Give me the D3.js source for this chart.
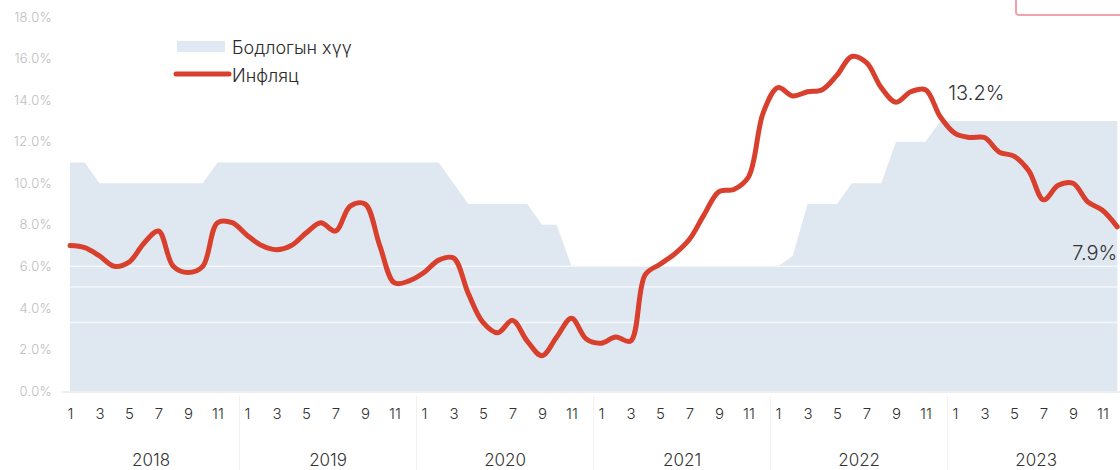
<!DOCTYPE html>
<html><head><meta charset="utf-8">
<script src="https://cdn.jsdelivr.net/npm/d3@7"></script>
<style>
html,body{margin:0;padding:0;background:#fff;}
svg{display:block;font-family:Inter,"Noto Sans",sans-serif;}
</style>
</head><body>
<svg id="chart" width="1120" height="470"></svg>
<script>
// ---- data ----
const years = [2018, 2019, 2020, 2021, 2022, 2023];
const monthTickLabels = [1, 3, 5, 7, 9, 11];
const yTicks = [0, 2, 4, 6, 8, 10, 12, 14, 16, 18];
const seriesNames = ["Бодлогын хүү", "Инфляц"];

const inflation = [
  7.0, 6.9, 6.5, 6.0, 6.2, 7.1, 7.7, 6.0, 5.7, 6.0, 8.1, 8.1,   // 2018
  7.5, 7.0, 6.8, 7.0, 7.6, 8.1, 7.7, 8.9, 9.0, 7.0, 5.2, 5.3,   // 2019
  5.7, 6.3, 6.4, 4.7, 3.3, 2.8, 3.4, 2.4, 1.7, 2.6, 3.5, 2.5,   // 2020
  2.3, 2.6, 2.4, 5.6, 6.1, 6.6, 7.3, 8.5, 9.6, 9.7, 10.3, 13.4, // 2021
  14.6, 14.2, 14.4, 14.5, 15.2, 16.1, 15.8, 14.6, 13.9, 14.4, 14.5, 13.2, // 2022
  12.4, 12.2, 12.2, 11.5, 11.3, 10.6, 9.2, 9.9, 10.0, 9.1, 8.7, 7.9  // 2023
];

const policyRate = [
  11, 11, 10, 10, 10, 10, 10, 10, 10, 10, 11, 11,   // 2018
  11, 11, 11, 11, 11, 11, 11, 11, 11, 11, 11, 11,   // 2019
  11, 11, 10, 9, 9, 9, 9, 9, 8, 8, 6, 6,            // 2020
  6, 6, 6, 6, 6, 6, 6, 6, 6, 6, 6, 6,               // 2021
  6, 6.5, 9, 9, 9, 10, 10, 10, 12, 12, 12, 13,      // 2022
  13, 13, 13, 13, 13, 13, 13, 13, 13, 13, 13, 13    // 2023
];

const annotations = [
  {index: 59, text: "13.2%"},
  {index: 71, text: "7.9%"}
];

// ---- layout ----
const svg = d3.select("#chart");
const n = inflation.length;
const x = d3.scaleLinear().domain([0, n - 1]).range([70, 1117.25]);
const y = d3.scaleLinear().domain([0, 18]).range([391, 17]);

// policy rate area
svg.append("path")
  .attr("fill", "#dfe8f1")
  .attr("d", d3.area().x((d, i) => x(i)).y0(y(0)).y1(d => y(d)).curve(d3.curveLinear)(policyRate));

// faint white streaks across area
[6, 5, 3.3].forEach(v => {
  svg.append("line").attr("x1", x(0)).attr("x2", x(n - 1))
    .attr("y1", y(v)).attr("y2", y(v))
    .attr("stroke", "#f4f7fa").attr("stroke-width", 1.5);
});

// baseline
svg.append("line").attr("x1", 62).attr("x2", 1120)
  .attr("y1", y(0) + 1).attr("y2", y(0) + 1)
  .attr("stroke", "#e6e9ec").attr("stroke-width", 1.5);

// y axis
const yAxis = d3.axisLeft(y).tickValues(yTicks).tickSize(0).tickPadding(0)
  .tickFormat(d => d3.format(".1f")(d) + "%");
const gy = svg.append("g").attr("transform", "translate(52,0)").call(yAxis);
gy.select(".domain").remove();
gy.selectAll("text").attr("fill", "#bdbdbd").attr("font-size", 13)
  .attr("font-weight", 300).attr("letter-spacing", "0.3px")
  .attr("font-family", "Inter, 'Noto Sans', sans-serif");

// year separators
d3.range(1, years.length + 1).forEach(k => {
  svg.append("line")
    .attr("x1", x(k * 12 - 0.5)).attr("x2", x(k * 12 - 0.5))
    .attr("y1", 396).attr("y2", 470)
    .attr("stroke", "#f1f1f1").attr("stroke-width", 1);
});

// month labels via axis
const monthIdx = [];
years.forEach((yr, yi) => monthTickLabels.forEach(m => monthIdx.push(yi * 12 + m - 1)));
const xAxis = d3.axisBottom(x).tickValues(monthIdx).tickSize(0).tickPadding(0)
  .tickFormat(i => String((i % 12) + 1));
const gx = svg.append("g").attr("transform", "translate(0,408)").call(xAxis);
gx.select(".domain").remove();
gx.selectAll("text").attr("fill", "#333").attr("font-size", 15).attr("font-weight", 300)
  .attr("font-family", "Inter, 'Noto Sans', sans-serif");

// year labels
svg.append("g").selectAll("text").data(years).join("text")
  .attr("x", (d, i) => (x(i * 12) + x(i * 12 + 11)) / 2)
  .attr("y", 466)
  .attr("text-anchor", "middle")
  .attr("fill", "#333").attr("font-size", 17).attr("font-weight", 300)
  .text(d => d);

// inflation line
svg.append("path")
  .attr("fill", "none")
  .attr("stroke", "#d83f2c")
  .attr("stroke-width", 5)
  .attr("stroke-linecap", "round")
  .attr("stroke-linejoin", "round")
  .attr("d", d3.line().x((d, i) => x(i)).y(d => y(d)).curve(d3.curveCatmullRom.alpha(0.5))(inflation));

// annotations
svg.append("text")
  .attr("x", x(annotations[0].index) + 8)
  .attr("y", y(inflation[annotations[0].index]) - 17)
  .attr("fill", "#333").attr("font-size", 20).attr("font-weight", 300)
  .text(annotations[0].text);
svg.append("text")
  .attr("x", x(annotations[1].index))
  .attr("y", y(inflation[annotations[1].index]) + 33)
  .attr("text-anchor", "end")
  .attr("fill", "#333").attr("font-size", 20).attr("font-weight", 300)
  .text(annotations[1].text);

// legend
const lg = svg.append("g");
lg.append("rect").attr("x", 177).attr("y", 41).attr("width", 48).attr("height", 11)
  .attr("fill", "#e0e9f3");
lg.append("text").attr("x", 232).attr("y", 54).attr("fill", "#2b2b2b")
  .attr("font-size", 18).attr("font-weight", 300).text(seriesNames[0]);
lg.append("line").attr("x1", 176).attr("x2", 229).attr("y1", 74).attr("y2", 74)
  .attr("stroke", "#d83f2c").attr("stroke-width", 5).attr("stroke-linecap", "round");
lg.append("text").attr("x", 232).attr("y", 82).attr("fill", "#2b2b2b")
  .attr("font-size", 18).attr("font-weight", 300).text(seriesNames[1]);

// cropped badge edge in top-right corner
svg.append("path")
  .attr("d", "M1016,0 L1016,12 Q1016,15 1020,15 L1120,15")
  .attr("fill", "none").attr("stroke", "#f2a0ab").attr("stroke-width", 2);
</script>
</body></html>
